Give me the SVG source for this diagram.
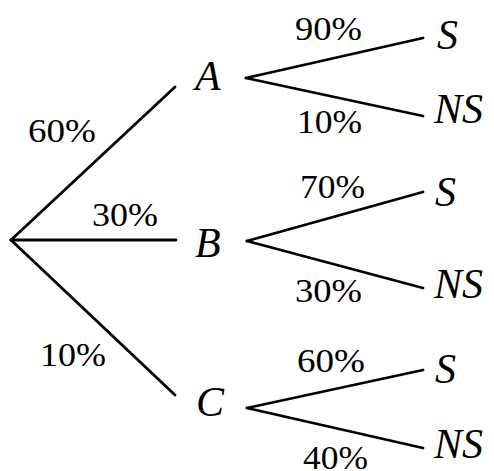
<svg xmlns="http://www.w3.org/2000/svg" width="494" height="471" viewBox="0 0 494 471">
<style>
.e{stroke:#000;stroke-width:2.8;fill:none;stroke-linecap:round}
</style>
<rect width="494" height="471" fill="#fff"/>
<g id="connectors">
<line class="e" x1="11" y1="240" x2="175" y2="87"/>
<line class="e" x1="11" y1="240" x2="176" y2="240"/>
<line class="e" x1="11" y1="240" x2="175" y2="395"/>
<line class="e" x1="246" y1="78" x2="423" y2="38"/>
<line class="e" x1="246" y1="78" x2="423" y2="116"/>
<line class="e" x1="247" y1="241" x2="423" y2="192"/>
<line class="e" x1="247" y1="241" x2="423" y2="288"/>
<line class="e" x1="247" y1="408" x2="423" y2="370"/>
<line class="e" x1="247" y1="408" x2="423" y2="448"/>
</g>
<g id="edge-labels" font-family="Liberation Serif, DejaVu Serif, serif" font-size="33" fill="#000" lengthAdjust="spacingAndGlyphs">
<text x="28" y="142" textLength="68" lengthAdjust="spacingAndGlyphs">60%</text>
<text x="92" y="226" textLength="66" lengthAdjust="spacingAndGlyphs">30%</text>
<text x="40" y="366" textLength="66" lengthAdjust="spacingAndGlyphs">10%</text>
<text x="295" y="40" textLength="67" lengthAdjust="spacingAndGlyphs">90%</text>
<text x="297" y="133" textLength="65" lengthAdjust="spacingAndGlyphs">10%</text>
<text x="300" y="198" textLength="65" lengthAdjust="spacingAndGlyphs">70%</text>
<text x="295" y="302" textLength="67" lengthAdjust="spacingAndGlyphs">30%</text>
<text x="297" y="372" textLength="68" lengthAdjust="spacingAndGlyphs">60%</text>
<text x="303" y="469" textLength="65" lengthAdjust="spacingAndGlyphs">40%</text>
</g>
<g font-family="Liberation Serif, DejaVu Serif, serif" font-style="italic" font-size="42" fill="#000">
<g id="node-A"><text x="195" y="90">A</text></g>
<g id="node-B"><text x="195" y="257">B</text></g>
<g id="node-C"><text x="196" y="416">C</text></g>
<g id="node-A-S"><text x="437" y="49">S</text></g>
<g id="node-A-NS"><text x="434" y="123">NS</text></g>
<g id="node-B-S"><text x="435" y="206">S</text></g>
<g id="node-B-NS"><text x="434" y="298">NS</text></g>
<g id="node-C-S"><text x="435" y="383">S</text></g>
<g id="node-C-NS"><text x="434" y="458">NS</text></g>
</g>
</svg>
